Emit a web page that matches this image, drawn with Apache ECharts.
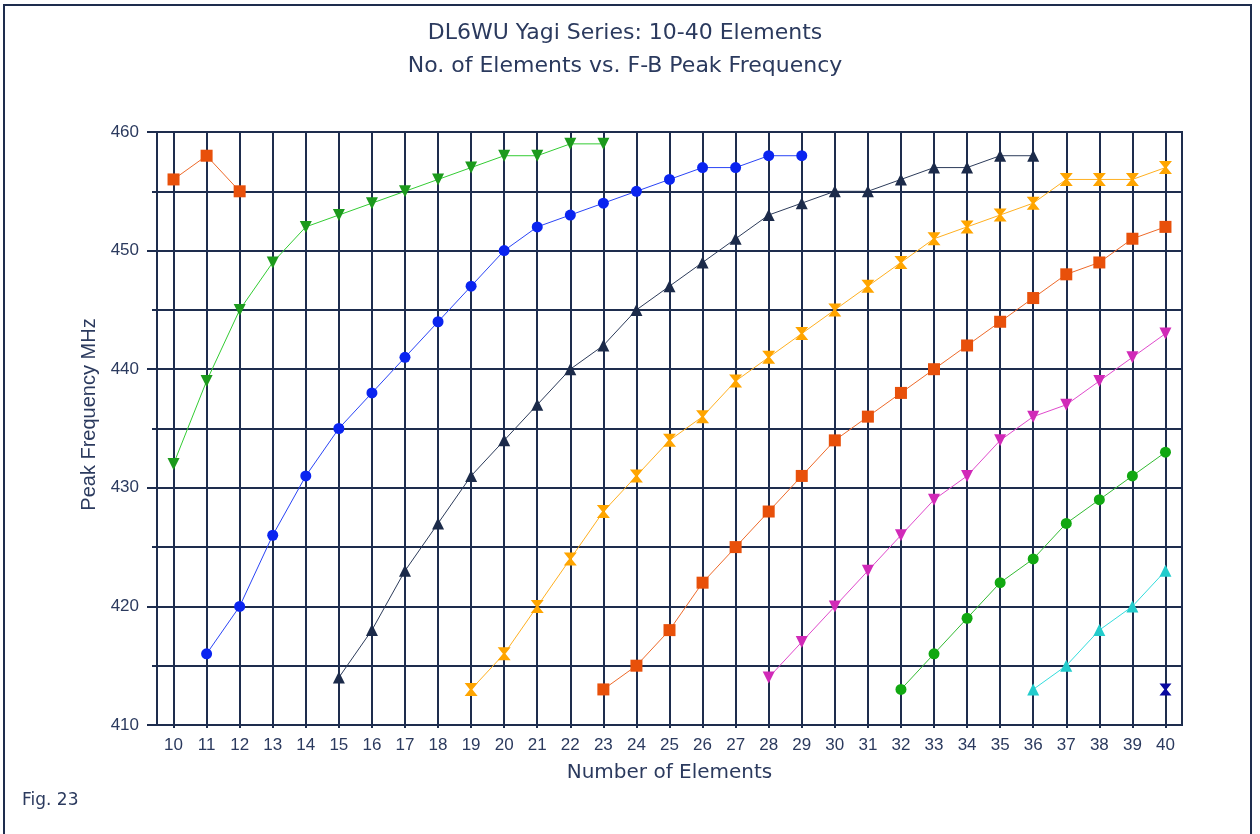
<!DOCTYPE html>
<html>
<head>
<meta charset="utf-8">
<script src="https://cdn.jsdelivr.net/npm/echarts@6/dist/echarts.min.js"></script>
<style>html,body{margin:0;padding:0;background:#fff}#c{width:1260px;height:834px}</style>
</head>
<body>
<div id="c"></div>
<script>
// Categories (number of elements)
const elements = ['10','11','12','13','14','15','16','17','18','19','20','21','22','23','24','25','26','27','28','29','30','31','32','33','34','35','36','37','38','39','40'];
const yTicks = [410, 420, 430, 440, 450, 460];

// Each series: first element count + peak frequencies (MHz)
const s1Start = 10; const s1 = [456, 458, 455];
const s2Start = 10; const s2 = [432, 439, 445, 449, 452, 453, 454, 455, 456, 457, 458, 458, 459, 459];
const s3Start = 11; const s3 = [416, 420, 426, 431, 435, 438, 441, 444, 447, 450, 452, 453, 454, 455, 456, 457, 457, 458, 458];
const s4Start = 15; const s4 = [414, 418, 423, 427, 431, 434, 437, 440, 442, 445, 447, 449, 451, 453, 454, 455, 455, 456, 457, 457, 458, 458];
const s5Start = 19; const s5 = [413, 416, 420, 424, 428, 431, 434, 436, 439, 441, 443, 445, 447, 449, 451, 452, 453, 454, 456, 456, 456, 457];
const s6Start = 23; const s6 = [413, 415, 418, 422, 425, 428, 431, 434, 436, 438, 440, 442, 444, 446, 448, 449, 451, 452];
const s7Start = 28; const s7 = [414, 417, 420, 423, 426, 429, 431, 434, 436, 437, 439, 441, 443];
const s8Start = 32; const s8 = [413, 416, 419, 422, 424, 427, 429, 431, 433];
const s9Start = 36; const s9 = [413, 415, 418, 420, 423];
const s10Start = 40; const s10 = [413];

function pairs(start, vals) {
  return vals.map((v, i) => [String(start + i), v]);
}

const hourglass = 'path://M0,0 L10,0 L6,5 L10,10 L0,10 L4,5 Z';
const textColor = '#2b3a5e';
const gridColor = '#1e2d4e';
const font = 'Liberation Sans, Arial, sans-serif';
const wideFont = 'DejaVu Sans, Verdana, sans-serif';

function mk(data, symbol, markerColor, lineColor, size, rotate) {
  return {
    type: 'line',
    data: data,
    symbol: symbol,
    symbolSize: size,
    symbolRotate: rotate || 0,
    showAllSymbol: true,
    itemStyle: { color: markerColor, opacity: 1 },
    lineStyle: { color: lineColor, width: 1 },
    emphasis: { disabled: true },
    animation: false,
    z: 5
  };
}

const chart = echarts.init(document.getElementById('c'), null, { renderer: 'canvas' });
chart.setOption({
  animation: false,
  backgroundColor: '#fff',
  title: {
    text: 'DL6WU Yagi Series: 10-40 Elements\nNo. of Elements vs. F-B Peak Frequency',
    left: 620, top: 12, textAlign: 'center',
    textStyle: { fontFamily: wideFont, fontSize: 22, fontWeight: 'normal', color: textColor, lineHeight: 33 }
  },
  graphic: [
    { type: 'rect', shape: { x: 4, y: 5, width: 1247, height: 840 }, style: { fill: 'none', stroke: gridColor, lineWidth: 2 }, silent: true },
    { type: 'text', left: 22, top: 792, style: { text: 'Fig. 23', font: '17px ' + wideFont, fill: textColor }, silent: true }
  ],
  grid: { left: 157, right: 78, top: 132, bottom: 109, show: true, borderColor: gridColor, borderWidth: 2, backgroundColor: 'transparent' },
  xAxis: {
    type: 'category',
    data: elements,
    boundaryGap: true,
    name: 'Number of Elements',
    nameLocation: 'middle',
    nameGap: 38,
    nameTextStyle: { fontFamily: wideFont, fontSize: 20, color: textColor },
    axisLine: { show: true, lineStyle: { color: gridColor, width: 2 } },
    axisTick: { show: true, alignWithLabel: true, length: 3, lineStyle: { color: gridColor, width: 2 } },
    axisLabel: { fontFamily: font, fontSize: 17, color: textColor, margin: 12, interval: 0 },
    splitLine: { show: true, alignWithLabel: true, interval: 0, lineStyle: { color: gridColor, width: 2 } }
  },
  yAxis: {
    type: 'value',
    min: 410, max: 460, interval: 10,
    name: 'Peak Frequency MHz',
    nameLocation: 'middle',
    nameGap: 55,
    nameTextStyle: { fontFamily: font, fontSize: 20, color: textColor, padding: [0, 0, 0, 28] },
    axisLine: { show: true, lineStyle: { color: gridColor, width: 2 } },
    axisTick: { show: true, length: 10, lineStyle: { color: gridColor, width: 2 } },
    minorTick: { show: true, splitNumber: 2, length: 5, lineStyle: { color: gridColor, width: 2 } },
    axisLabel: { fontFamily: font, fontSize: 17, color: textColor, margin: 18,
      formatter: v => (yTicks.indexOf(v) >= 0 ? String(v) : '') },
    splitLine: { show: true, lineStyle: { color: gridColor, width: 2 } },
    minorSplitLine: { show: true, lineStyle: { color: gridColor, width: 2 } }
  },
  series: [
    mk(pairs(s1Start, s1), 'rect', '#e8500a', '#ee6a2a', 12),
    mk(pairs(s2Start, s2), 'triangle', '#1c9a1c', '#33cc33', 12, 180),
    mk(pairs(s3Start, s3), 'circle', '#0a24f0', '#2a44f6', 11),
    mk(pairs(s4Start, s4), 'triangle', '#1c2b4a', '#2c3b5a', 12),
    mk(pairs(s5Start, s5), hourglass, '#ffa500', '#ffb020', 13),
    mk(pairs(s6Start, s6), 'rect', '#e8500a', '#ee6a2a', 12),
    mk(pairs(s7Start, s7), 'triangle', '#d12ab8', '#e04acc', 12, 180),
    mk(pairs(s8Start, s8), 'circle', '#11a811', '#33bb33', 11),
    mk(pairs(s9Start, s9), 'triangle', '#22cccc', '#33dddd', 12),
    mk(pairs(s10Start, s10), hourglass, '#0a0aa0', '#0a0aa0', 12)
  ]
});
</script>
</body>
</html>
